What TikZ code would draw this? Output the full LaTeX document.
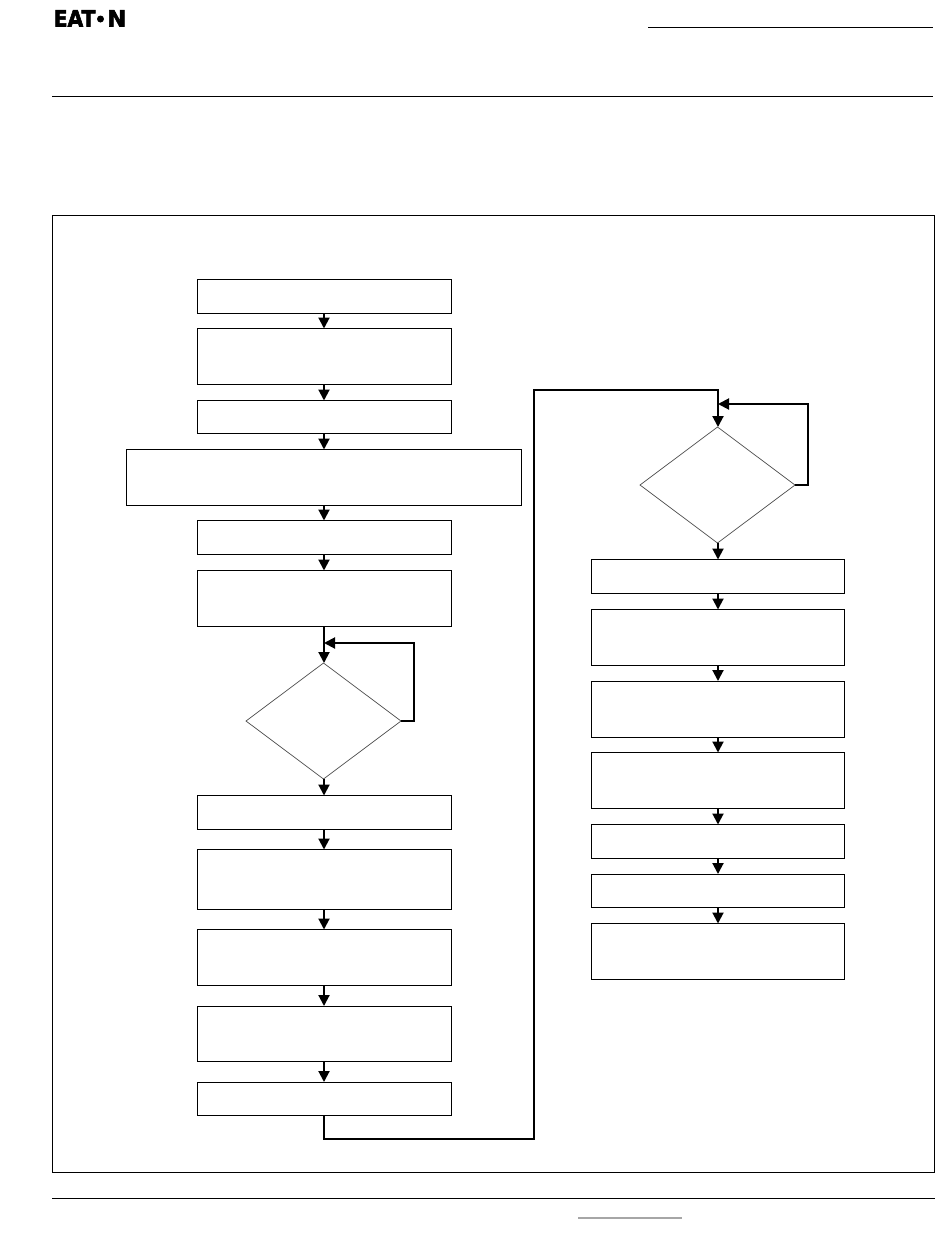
\documentclass[tikz,border=0pt]{standalone}
\usepackage{fontspec}
\setmainfont{DejaVu Sans}
\newfontfamily\logofont[FakeBold=2.5]{DejaVu Sans Bold}
\usetikzlibrary{arrows.meta,shapes.geometric,calc,positioning}
\tikzstyle{block}   =[rectangle, draw, minimum width=254pt, inner sep=0pt,
                    outer sep=0pt, line width=1pt, anchor=north]
\tikzstyle{decision}=[diamond, draw=black!70, minimum width=155pt, minimum height=116pt,
                    aspect=1.336, inner sep=0pt, outer sep=0pt, line width=0.7pt]
\tikzstyle{edge}    =[-{Triangle[length=11pt,width=11pt]}, line width=2pt]
\tikzstyle{rule}    =[line width=1pt]
\tikzstyle{logotext}=[anchor=base west, inner sep=0pt, font=\logofont\fontsize{22.5pt}{22.5pt}\selectfont]
\begin{document}
\begin{tikzpicture}[x=1pt, y=-1pt]
    \useasboundingbox (0,0) rectangle (950,1248);
    % header and footer
    \node[logotext, xscale=0.9] (logoa) at (53.5,26.5) {EAT};
    \node[circle, fill=black, minimum size=7pt, inner sep=0pt] (logodot) at (100.5,19) {};
    \node[logotext, xscale=1.02] (logob) at (107,26.5) {N};
    \coordinate (ruletopa) at (648,27.5);
    \coordinate (ruletopb) at (933,27.5);
    \coordinate (rulemida) at (52,96.5);
    \coordinate (rulemidb) at (933,96.5);
    \coordinate (rulefoota) at (52,1198.5);
    \coordinate (rulefootb) at (935,1198.5);
    \coordinate (linka) at (578,1218);
    \coordinate (linkb) at (682,1218);
    \draw[rule] (ruletopa) -- (ruletopb);
    \draw[rule] (rulemida) -- (rulemidb);
    \draw[rule] (rulefoota) -- (rulefootb);
    \draw[line width=2pt, black!35] (linka) -- (linkb);
    \node[draw, rectangle, line width=1pt, minimum width=882pt, minimum height=957pt,
          inner sep=0pt, outer sep=0pt, anchor=north west] (frame) at (52.5,215.5) {};

    % left column
    \foreach \i/\t/\h in {1/279.5/34, 2/328.5/56, 3/400.5/33, 5/520.5/34, 6/570.5/56,
                          7/795.5/33.5, 8/849.5/60, 9/929.5/56, 10/1006/55.5, 11/1082/33.5}
        \node[block, minimum height=\h pt] (l\i) at (324.5,\t) {};
    \node[block, minimum width=395pt, minimum height=56pt] (l4) at (324,449.5) {};
    \node[decision] (ld) at (323.5,721) {};

    % right column
    \foreach \i/\t/\h in {1/559.5/34, 2/609.5/56, 3/681/56, 4/752.5/56, 5/824.5/34,
                          6/874/33.5, 7/923.5/56}
        \node[block, minimum width=253pt, minimum height=\h pt] (r\i) at (718,\t) {};
    \node[decision] (rd) at (717.5,485) {};

    % arrows
    \coordinate (lstem) at (324,300);
    \foreach \a/\b in {1/2,2/3,3/4,4/5,5/6,7/8,8/9,9/10,10/11}
        \draw[edge] (l\a.south -| lstem) -- (l\b.north -| lstem);
    \draw[edge] (l6.south -| lstem) -- (ld.north -| lstem);
    \draw[edge] (ld.south -| lstem) -- (l7.north -| lstem);
    \foreach \a/\b in {1/2,2/3,3/4,4/5,5/6,6/7}
        \draw[edge] (r\a.south) -- (r\b.north);
    \draw[edge] (rd.south -| r1.south) -- (r1.north);

    % feedback loops
    \coordinate (lloop) at (324,643);
    \coordinate (rloop) at (718,404);
    \draw[edge] (ld.east) -- (414,721) |- (lloop);
    \draw[edge] (rd.east) -- (807.5,485) |- (rloop);

    % column change
    \coordinate (jump) at (534,390);
    \draw[edge] (l11.south -| lstem) |- (534,1139) -- (jump) -| (rd.north -| r1.north);
\end{tikzpicture}
\end{document}
